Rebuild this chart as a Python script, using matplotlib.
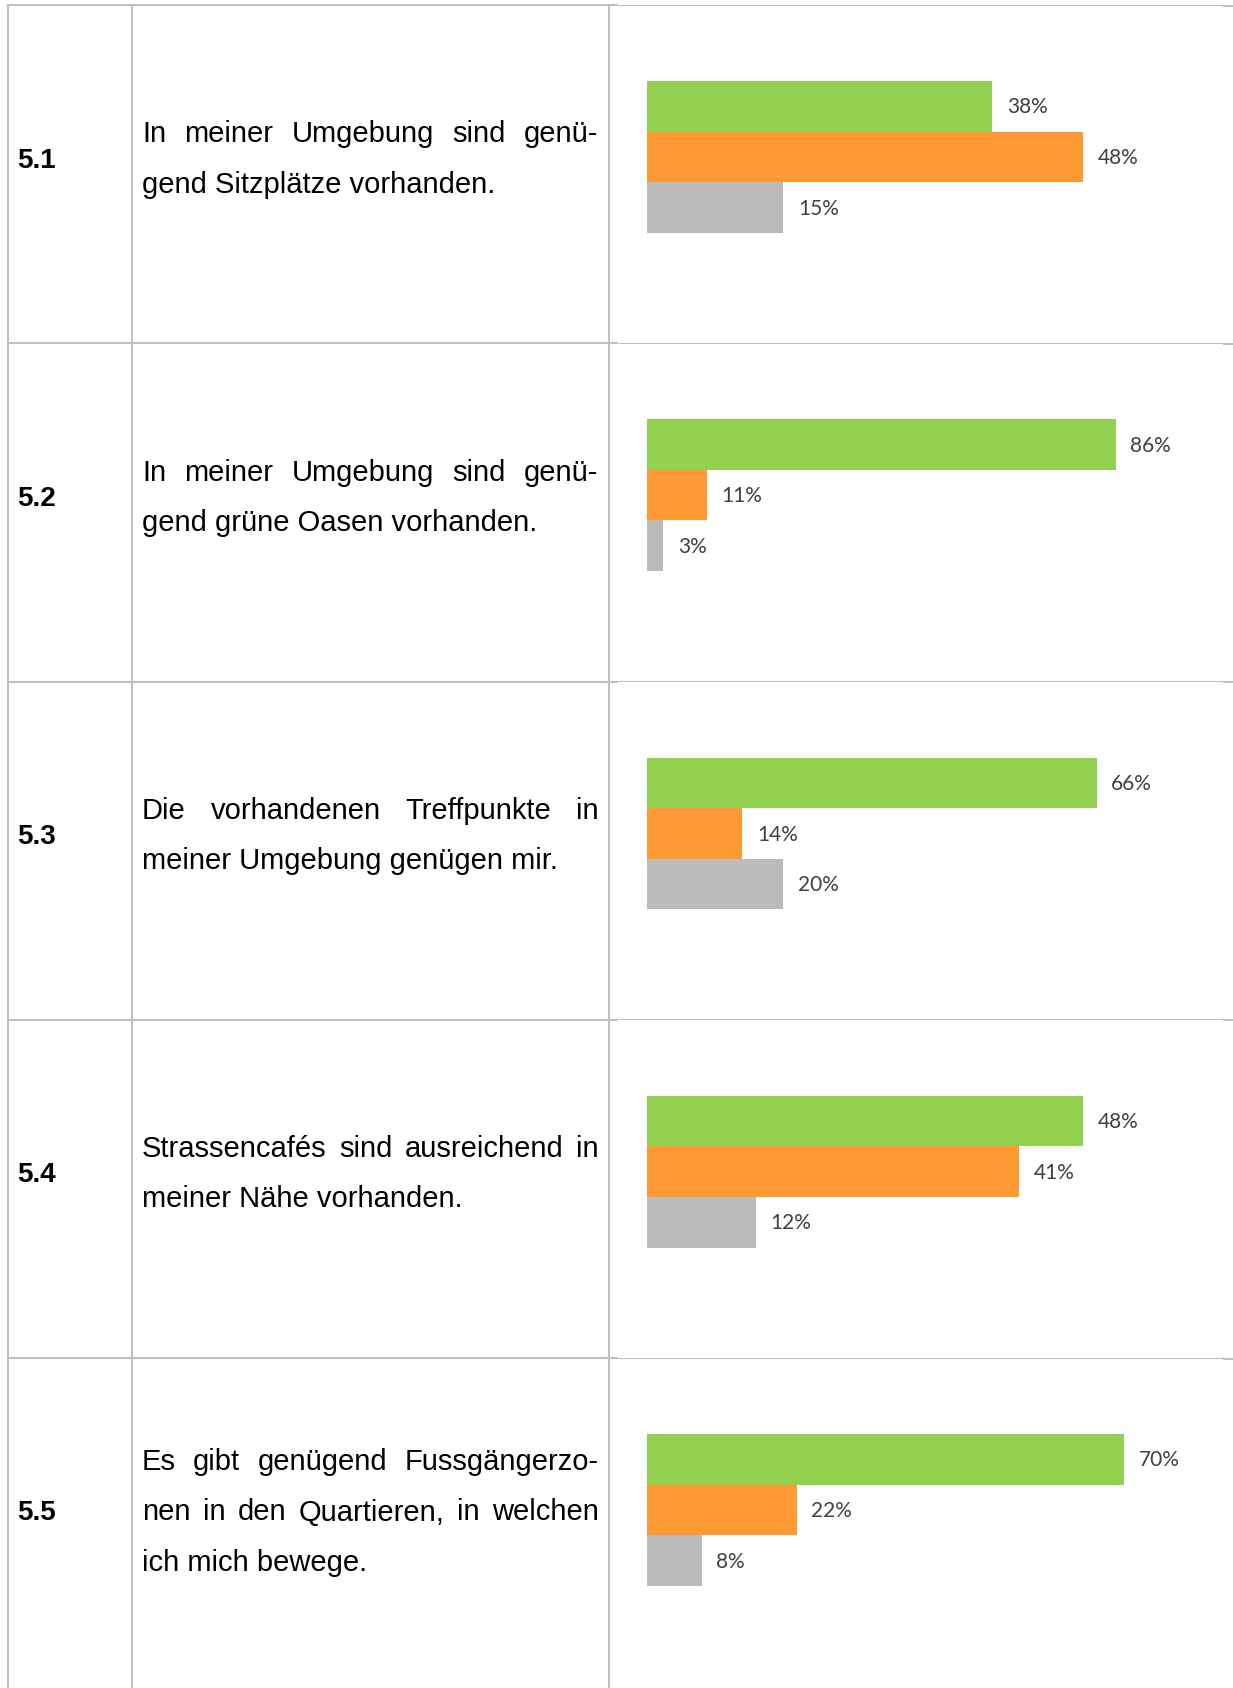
import matplotlib
matplotlib.use("Agg")
import matplotlib.pyplot as plt

# ---------------- data ----------------
codes = ["5.1", "5.2", "5.3", "5.4", "5.5"]
statements = [
    ["In meiner Umgebung sind genü-", "gend Sitzplätze vorhanden."],
    ["In meiner Umgebung sind genü-", "gend grüne Oasen vorhanden."],
    ["Die vorhandenen Treffpunkte in", "meiner Umgebung genügen mir."],
    ["Strassencafés sind ausreichend in", "meiner Nähe vorhanden."],
    ["Es gibt genügend Fussgängerzo-", "nen in den Quartieren, in welchen",
     "ich mich bewege."],
]
green_vals = [38, 86, 66, 48, 70]
orange_vals = [48, 11, 14, 41, 22]
gray_vals = [15, 3, 20, 12, 8]
axis_max = [60, 100, 80, 60, 80]

# ---------------- style ----------------
GREEN = "#92D050"
ORANGE = "#FF9933"
GRAY = "#BBBBBB"
LINE = "#C0C0C0"
LABEL_COLOR = "#404040"
BODY_FONT = "Liberation Sans"
LABEL_FONT = "Lato"

W, H = 1233, 1688
fig = plt.figure(figsize=(W / 100, H / 100), dpi=100)
canvas = fig.add_axes([0, 0, 1, 1], zorder=0)
canvas.set_xlim(0, W)
canvas.set_ylim(H, 0)
canvas.axis("off")

# layout (pixels)
x_left, x_col2, x_col3 = 7.5, 132, 609
x_thin_start, x_thin_end = 618, 1223
top = 5
row_h = 338.25
thick = 1.5
thin = 0.8

# table lines
for i in range(len(codes)):
    y = top + i * row_h
    canvas.plot([x_left, x_thin_start], [y, y], color=LINE, lw=thick, solid_capstyle="butt")
    canvas.plot([x_thin_start, x_thin_end], [y - 0.5, y - 0.5], color=LINE, lw=thin, solid_capstyle="butt")
    canvas.plot([x_thin_end, W], [y + 0.5, y + 0.5], color=LINE, lw=thick, solid_capstyle="butt")
for x in (x_left, x_col2, x_col3):
    canvas.plot([x, x], [top - 1, H], color=LINE, lw=thick, solid_capstyle="butt")

renderer = fig.canvas.get_renderer()

text_x0, text_x1 = 142, 598.5
line_pitch = 50.3
body_kw = dict(fontsize=21, family=BODY_FONT, color="black", va="baseline", ha="left")


def draw_line(y, line, justify):
    words = line.split(" ")
    if not justify or len(words) < 2:
        canvas.text(text_x0, y, line, **body_kw)
        return
    texts = [canvas.text(0, y, w, **body_kw) for w in words]
    widths = [t.get_window_extent(renderer).width for t in texts]
    gap = (text_x1 - text_x0 - sum(widths)) / (len(words) - 1)
    x = text_x0
    for t, w in zip(texts, widths):
        t.set_x(x)
        x += w + gap


bar_x0 = 647
bar_w = 545
bar_top_off = 76
bar_group_h = 151.8

for i, code in enumerate(codes):
    row_top = top + i * row_h
    yc = row_top + 152
    base_off = 10.5
    canvas.text(17, yc + base_off, code, fontsize=20, family=BODY_FONT,
                fontweight="bold", va="baseline", ha="left", color="black")
    lines = statements[i]
    n = len(lines)
    for j, line in enumerate(lines):
        y = yc + (j - (n - 1) / 2) * line_pitch + base_off
        draw_line(y, line, justify=(j < n - 1))

    gtop = row_top + bar_top_off
    ax = fig.add_axes([bar_x0 / W, 1 - (gtop + bar_group_h) / H,
                       bar_w / W, bar_group_h / H], zorder=2)
    ax.set_facecolor("none")
    vals = [green_vals[i], orange_vals[i], gray_vals[i]]
    cols = [GREEN, ORANGE, GRAY]
    ypos = [2, 1, 0]
    ax.barh(ypos, vals, height=1.0, color=cols, linewidth=0)
    for v, yp in zip(vals, ypos):
        ax.annotate(f"{v}%", xy=(v, yp), xytext=(10.5, -0.8), textcoords="offset points",
                    va="center", ha="left", fontsize=15, family=LABEL_FONT,
                    color=LABEL_COLOR, annotation_clip=False)
    ax.set_xlim(0, axis_max[i])
    ax.set_ylim(-0.5, 2.5)
    ax.axis("off")

fig.savefig("out.png", dpi=100, facecolor="white")
